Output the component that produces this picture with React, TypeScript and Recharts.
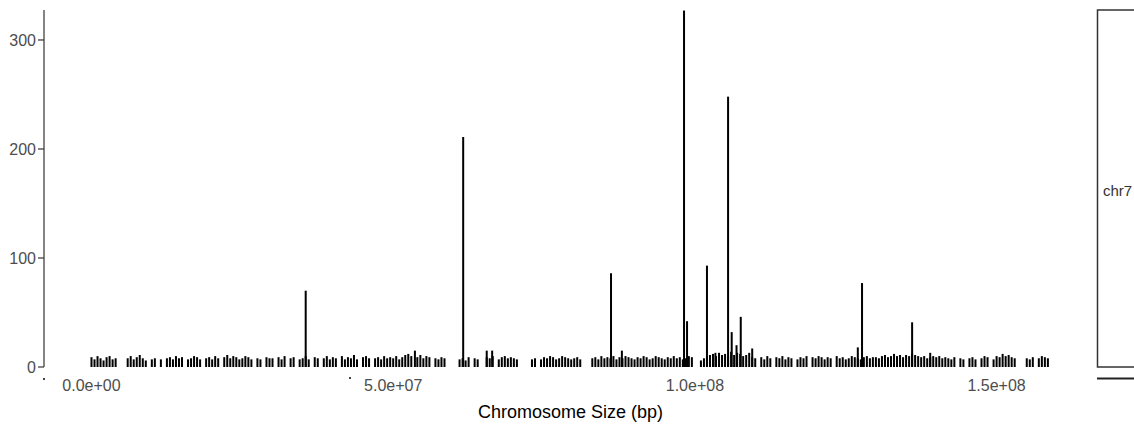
import { BarChart, Bar, XAxis, YAxis } from "recharts";

// Read-depth along chr7: a dense low baseline in 0.5 Mb bins, plus a handful
// of isolated high-coverage spikes at their own positions (Mb).
const BIN_MB = 0.5;

const binDepth = [
  9, 7, 10, 8, 6, 9, 10, 7, 8, 0, 0, 0, 8, 10, 7, 9, 11, 8, 6, 0,
  7, 8, 0, 7, 0, 8, 9, 7, 10, 8, 9, 0, 7, 8, 10, 9, 7, 0, 8, 9,
  7, 10, 8, 0, 9, 11, 8, 10, 9, 7, 8, 10, 9, 7, 0, 8, 7, 0, 9, 8,
  8, 0, 9, 7, 10, 0, 8, 9, 0, 7, 8, 10, 7, 0, 9, 8, 0, 8, 10, 7,
  9, 8, 0, 10, 7, 9, 8, 11, 7, 0, 9, 10, 8, 0, 8, 9, 7, 10, 8, 9,
  8, 10, 7, 9, 11, 12, 10, 0, 9, 11, 8, 10, 9, 0, 8, 7, 9, 8, 0, 0,
  0, 0, 7, 8, 6, 9, 0, 8, 7, 0, 0, 9, 8, 10, 0, 7, 9, 10, 8, 9,
  8, 7, 0, 0, 0, 0, 7, 8, 0, 7, 9, 8, 10, 9, 7, 8, 10, 9, 8, 7,
  8, 9, 7, 0, 0, 0, 8, 9, 7, 10, 8, 9, 8, 10, 7, 9, 8, 10, 9, 8,
  7, 9, 8, 10, 9, 7, 8, 10, 9, 8, 7, 9, 8, 10, 8, 9, 7, 8, 10, 9,
  0, 0, 6, 8, 9, 11, 12, 10, 13, 11, 12, 10, 14, 11, 13, 12, 10, 11, 13, 9,
  8, 0, 9, 7, 10, 8, 0, 9, 8, 10, 7, 9, 8, 0, 7, 9, 8, 10, 0, 9,
  8, 10, 9, 7, 9, 8, 0, 10, 8, 9, 7, 8, 10, 9, 8, 7, 9, 10, 8, 9,
  9, 8, 10, 11, 9, 10, 12, 10, 11, 9, 11, 10, 12, 11, 10, 9, 10, 8, 9, 10,
  9, 10, 8, 9, 8, 7, 9, 0, 8, 7, 0, 8, 9, 7, 0, 8, 10, 9, 0, 7,
  10, 9, 12, 10, 11, 9, 8, 0, 0, 0, 8, 7, 9, 0, 8, 10, 9, 8,
];

const peakPosMb = [
  35.5, 53.6, 61.6, 65.5, 66.4, 86.1, 87.9, 98.2, 98.7, 102.0,
  103.4, 105.5, 106.1, 106.9, 107.6, 109.5, 127.0, 127.7, 136.0, 139.0,
];
const peakDepth = [
  70, 15, 211, 15, 15, 86, 15, 327, 42, 93,
  13, 248, 32, 20, 46, 17, 18, 77, 41, 13,
];

const yTicks = [0, 100, 200, 300];
const xTicks = [0, 50, 100, 150];
const xTickLabels = ["0.0e+00", "5.0e+07", "1.0e+08", "1.5e+08"];

const rows = [
  ...binDepth.map((d, i) => ({ pos: i * BIN_MB, depth: d })),
  ...peakPosMb.map((p, i) => ({ pos: p, depth: peakDepth[i] })),
]
  .filter((r) => r.depth > 0)
  .sort((a, b) => a.pos - b.pos);

const FONT = "'Liberation Sans', Arial, sans-serif";

// keep every spike at a fixed 2px, centred on the slot recharts computed
function Spike(props: any) {
  const { x, y, width, height } = props;
  if (!height || height <= 0) return null;
  const cx = x + width / 2;
  return <rect x={cx - 1} y={y} width={2} height={height} fill="#000" />;
}

export default function App() {
  return (
    <div style={{ position: "absolute", left: 0, top: 0, width: 1134, height: 428, background: "#fff" }}>
      <BarChart
        width={1134}
        height={428}
        data={rows}
        margin={{ top: 10, right: 37, bottom: 0, left: 0 }}
      >
        <XAxis
          dataKey="pos"
          type="number"
          domain={[-7.87, 166.64]}
          allowDataOverflow
          ticks={xTicks}
          tickFormatter={(v: number) => xTickLabels[xTicks.indexOf(v)] ?? ""}
          axisLine={false}
          tickLine={false}
          tickSize={5}
          tickMargin={8}
          height={61}
          tick={{ fill: "#4d4d4d", fontSize: 16, fontFamily: FONT }}
          label={{
            value: "Chromosome Size (bp)",
            position: "insideBottom",
            offset: 10,
            fill: "#000",
            fontSize: 18,
            fontFamily: FONT,
          }}
        />
        <YAxis
          type="number"
          domain={[0, 327.5]}
          allowDataOverflow
          ticks={yTicks}
          width={44}
          tickSize={6}
          tickMargin={2}
          axisLine={{ stroke: "#333", strokeWidth: 1.2 }}
          tickLine={{ stroke: "#333", strokeWidth: 1.2 }}
          tick={{ fill: "#4d4d4d", fontSize: 16, fontFamily: FONT }}
        />
        <Bar dataKey="depth" fill="#000" shape={Spike} isAnimationActive={false} />
      </BarChart>
      <svg
        width={1134}
        height={428}
        style={{ position: "absolute", left: 0, top: 0, pointerEvents: "none" }}
      >
        <rect x={1097.5} y={10} width={60} height={357} fill="#fff" stroke="#333" strokeWidth={1.5} />
        <text
          x={1117.5}
          y={190}
          textAnchor="middle"
          dominantBaseline="central"
          fontSize={15}
          fontFamily={FONT}
          fill="#333"
        >
          chr7
        </text>
        <line x1={1097} y1={378.5} x2={1134} y2={378.5} stroke="#222" strokeWidth={2} />
        <rect x={43} y={378} width={2} height={2} fill="#444" />
        <rect x={349} y={377} width={2} height={2} fill="#444" />
      </svg>
    </div>
  );
}
